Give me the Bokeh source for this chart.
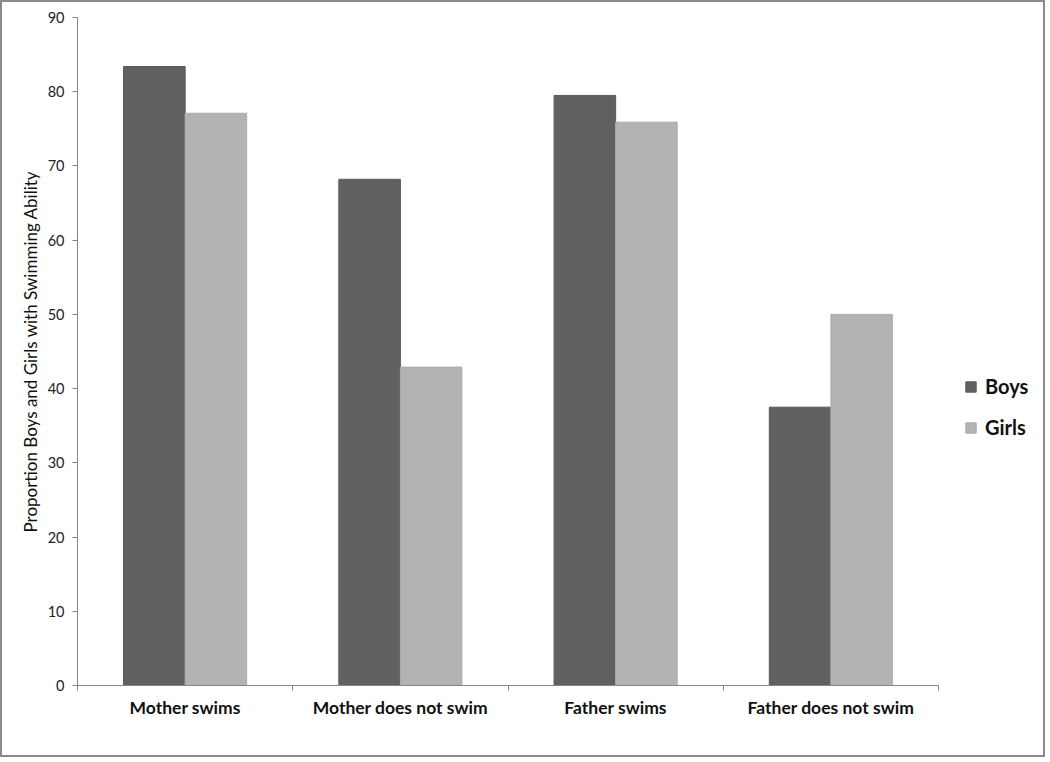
from bokeh.plotting import figure
from bokeh.models import Range1d, FixedTicker, Legend, LegendItem, ColumnDataSource
from bokeh.embed import file_html
from bokeh.resources import INLINE

categories = ["Mother swims", "Mother does not swim", "Father swims", "Father does not swim"]
boys = [83.4, 68.2, 79.5, 37.5]
girls = [77.1, 42.9, 75.9, 50.0]
y_ticks = [0, 10, 20, 30, 40, 50, 60, 70, 80, 90]

BAR_W = 0.286
n = len(categories)
centers = [i + 0.5 for i in range(n)]

W, H = 1045, 757
LEFT, TOP, BOTTOM = 75, 15, 74
frame_w = W - LEFT
cat_px = 215.25
x_end = frame_w / cat_px

p = figure(width=W, height=H, output_backend="svg", toolbar_location=None,
           x_range=Range1d(0, x_end), y_range=Range1d(0, 90),
           min_border_left=LEFT, min_border_right=0, min_border_top=TOP, min_border_bottom=BOTTOM)
p.styles = {"border": "2px solid #8a8a8a"}
p.background_fill_color = "white"
p.border_fill_color = "white"
p.outline_line_color = None
p.xgrid.grid_line_color = None
p.ygrid.grid_line_color = None

src_b = ColumnDataSource(dict(x=[c - BAR_W / 2 for c in centers], top=boys))
src_g = ColumnDataSource(dict(x=[c + BAR_W / 2 for c in centers], top=girls))
rb = p.vbar(x="x", top="top", width=BAR_W, bottom=0, source=src_b,
            fill_color="#606060", line_color="#5a5a5a", line_width=1)
rg = p.vbar(x="x", top="top", width=BAR_W, bottom=0, source=src_g,
            fill_color="#b3b3b3", line_color="#adadad", line_width=1)

font = "Lato"
axis_color = "#868686"

# x axis
xa = p.xaxis[0]
xa.bounds = (0, n)
xa.ticker = FixedTicker(ticks=centers, minor_ticks=list(range(n + 1)))
xa.major_label_overrides = {c: cat for c, cat in zip(centers, categories)}
xa.major_tick_line_color = None
xa.minor_tick_in = 0
xa.minor_tick_out = 5
xa.minor_tick_line_color = axis_color
xa.axis_line_color = axis_color
xa.major_label_text_font = font
xa.major_label_text_font_style = "bold"
xa.major_label_text_font_size = "17.5px"
xa.major_label_text_color = "#111111"
xa.major_label_standoff = 5

# y axis
ya = p.yaxis[0]
ya.ticker = FixedTicker(ticks=y_ticks)
ya.minor_tick_line_color = None
ya.major_tick_in = 0
ya.major_tick_out = 5
ya.major_tick_line_color = axis_color
ya.axis_line_color = axis_color
ya.major_label_text_font = font
ya.major_label_text_font_size = "14.5px"
ya.major_label_text_color = "#222222"
ya.major_label_standoff = 8
ya.axis_label = "Proportion Boys and Girls with Swimming Ability"
ya.axis_label_text_font = font
ya.axis_label_text_font_style = "normal"
ya.axis_label_text_font_size = "17px"
ya.axis_label_text_color = "#111111"
ya.axis_label_standoff = 4

legend = Legend(items=[LegendItem(label="Boys", renderers=[rb]),
                       LegendItem(label="Girls", renderers=[rg])],
                location=(887, 246), orientation="vertical",
                border_line_color=None, background_fill_alpha=0,
                glyph_width=13, glyph_height=13, label_height=20,
                spacing=17, padding=0, margin=0, label_standoff=8,
                label_text_font=font, label_text_font_style="bold",
                label_text_font_size="20px", label_text_color="#111111")
p.add_layout(legend)

open("out.html", "w").write(file_html(p, INLINE))
